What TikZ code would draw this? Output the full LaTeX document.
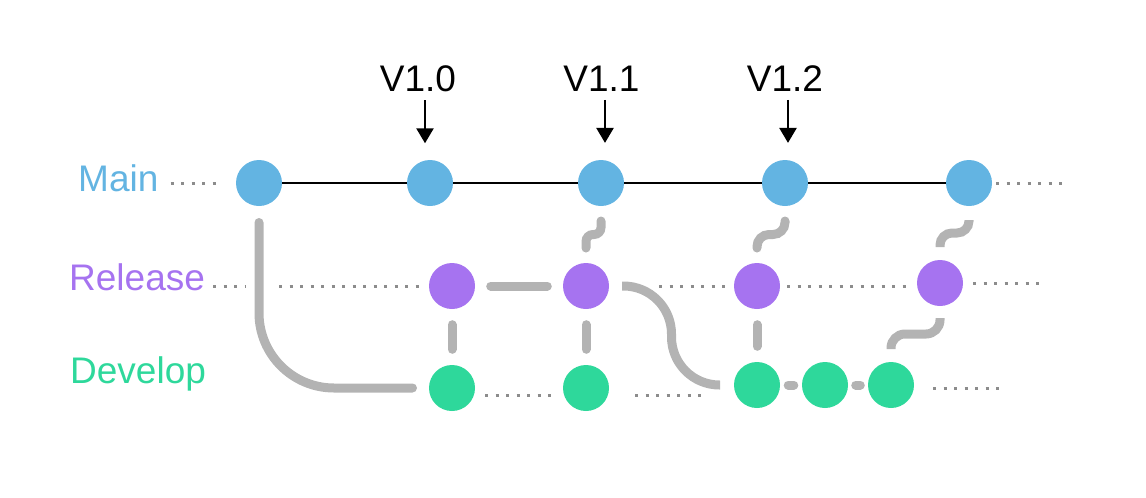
\documentclass[tikz,border=0pt]{standalone}
\usepackage{fontspec}
\setmainfont{Liberation Sans}
\usepackage{tikz}
\usetikzlibrary{arrows.meta,calc}

\definecolor{mainblue}{HTML}{63B4E2}
\definecolor{relpurple}{HTML}{A673F0}
\definecolor{devgreen}{HTML}{2ED89B}
\definecolor{linkgray}{HTML}{B3B3B3}
\definecolor{dotgray}{HTML}{8C8C8C}

\tikzset{
    commit/.style={circle, minimum size=46pt, inner sep=0pt},
    link/.style={draw=linkgray, line width=9pt, line cap=round},
    gap/.style={shorten <=#1, shorten >=#1},
    dots/.style={draw=dotgray, line width=3pt, dash pattern=on 3pt off 7.5pt},
    branch/.style={font=\fontsize{37}{40}\selectfont, inner sep=0pt, anchor=base west},
    tag/.style={font=\fontsize{37}{40}\selectfont, inner sep=0pt, anchor=base},
    tagarrow/.style={line width=2.5pt, -{Triangle[width=17pt,length=15pt]}}
}

\begin{document}
\begin{tikzpicture}[x=1pt, y=-1pt]
                    \useasboundingbox (0,0) rectangle (1146,498);
                    % commits
                    \foreach \n/\x in {1/259, 2/430, 3/601, 4/785, 5/969}
                        \node[commit, fill=mainblue] (m\n) at (\x,183) {};
                    \foreach \n/\x/\y in {1/452/286, 2/586/286, 3/757/286, 4/940/283}
                        \node[commit, fill=relpurple] (r\n) at (\x,\y) {};
                    \foreach \n/\x/\y in {1/452/388, 2/586/388, 3/757/385, 4/825/385, 5/891/385}
                        \node[commit, fill=devgreen] (d\n) at (\x,\y) {};
                    \foreach \a/\b in {1/2, 2/3, 3/4, 4/5}
                        \draw[line width=2.7pt] (m\a) -- (m\b);

                    % branch names and versions
                    \node[branch, text=mainblue] (lmain) at (78,191.7) {Main};
                    \node[branch, text=relpurple] (lrel) at (69,290) {Release};
                    \node[branch, text=devgreen] (ldev) at (70,383) {Develop};
                    \node[tag] (v10) at (418,91.7) {V1.0};
                    \node[tag] (v11) at (601.5,91.7) {V1.1};
                    \node[tag] (v12) at (785,91.7) {V1.2};
                    \draw[tagarrow] ([xshift=7pt, yshift=-8pt]v10.south) -- ++(0,43);
                    \draw[tagarrow] ([xshift=3.5pt, yshift=-8pt]v11.south) -- ++(0,43);
                    \draw[tagarrow] ([xshift=3pt, yshift=-8pt]v12.south) -- ++(0,43);

                    % links
                    \coordinate (s3) at ($(m3)!.5!(r2)$);
                    \coordinate (s4) at ($(m4)!.5!(r3)$);
                    \coordinate (s5) at ($(m5)!.5!(r4)$);
                    \coordinate (s6) at ($(r4)!.5!(d5)$);
                    \coordinate (bend) at ($(r2)!.5!(d3)$);
                    \draw[link, rounded corners=75pt] ([yshift=-39.5pt]m1.center) |- ([xshift=-39.5pt]d1.center);
                    \draw[link, gap=15.5pt] (r1) -- (r2);
                    \draw[link, gap=15.5pt] (r1) -- (d1);
                    \draw[link, gap=15.5pt] (r2) -- (d2);
                    \draw[link, gap=15.5pt] (r3) -- (d3);
                    \draw[link, gap=8pt] (d3) -- (d4);
                    \draw[link, gap=7.5pt] (d4) -- (d5);
                    \draw[link, rounded corners=7pt] ([yshift=-38pt]m3.center) |- (s3 -| r2) -- ([yshift=38pt]r2.center);
                    \draw[link, rounded corners=12pt] ([yshift=-38pt]m4.center) |- (s4 -| r3) -- ([yshift=38pt]r3.center);
                    \draw[link, line cap=butt, rounded corners=12pt] ([yshift=-37pt]m5.center) |- (s5 -| r4) -- ([yshift=36pt]r4.center);
                    \draw[link, line cap=butt, rounded corners=14pt] ([yshift=-35pt]r4.center) |- (s6 -| d5) -- ([yshift=36pt]d5.center);
                    \draw[link, line cap=butt, rounded corners=48pt] ([xshift=36pt]r2.center) -| (bend |- d3) -- ([xshift=-37pt]d3.center);

                    % dotted history
                    \draw[dots] ($(lmain.east |- m1)+(12,0)$) -- ($(m1.west)+(-13,0)$);
                    \draw[dots] ($(m5.east)+(4,0)$) -- ++(70,0);
                    \draw[dots] ($(lrel.east |- r1)+(8,0)$) -- ++(33,0);
                    \draw[dots] (279,286) -- ($(r1.west)+(-5,0)$);
                    \draw[dots] (659,286) -- ($(r3.west)+(-5,0)$);
                    \draw[dots] ($(r3.east)+(7,0)$) -- ($(r3.east -| r4.west)+(-6,0)$);
                    \draw[dots] ($(r4.east)+(10,0)$) -- ++(70,0);
                    \draw[dots] ($(d1.east)+(10,7)$) -- ($(d2.west)+(-9,7)$);
                    \draw[dots] ($(d2.east)+(26,7)$) -- ++(68,0);
                    \draw[dots] ($(d5.east)+(19,3)$) -- ++(70,0);
\end{tikzpicture}
\end{document}
